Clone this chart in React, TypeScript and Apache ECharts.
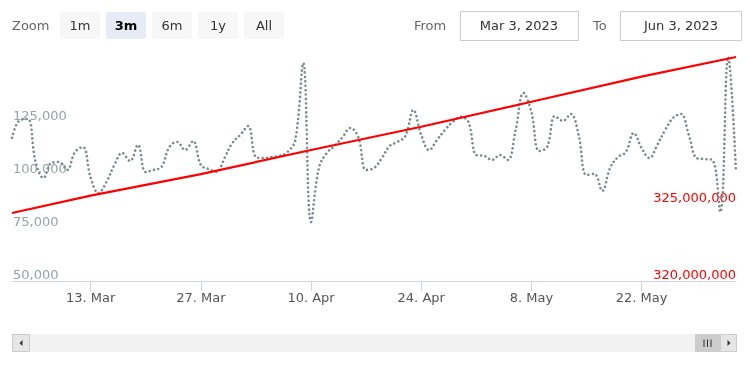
import React, { useEffect, useRef } from "react";
import * as echarts from "echarts";

// ---- data ----
const rangeStart = [2023, 2, 3]; // Mar 3, 2023 (month 0-based)
const rangeEnd = [2023, 5, 3]; // Jun 3, 2023
const tickDates = ["2023-03-13", "2023-03-27", "2023-04-10", "2023-04-24", "2023-05-08", "2023-05-22"];
const monthNames = ["Jan", "Feb", "Mar", "Apr", "May", "Jun", "Jul", "Aug", "Sep", "Oct", "Nov", "Dec"];

// daily values from Mar 3, 2023 (left axis)
const dailyValues = [
  117500, 125900, 126400, 106100, 98600, 105700, 106100, 102400, 110800, 113200,
  98600, 91500, 96700, 104700, 110400, 106600, 114200, 101400, 102400, 103800,
  113200, 115600, 111800, 116000, 104700, 102800, 101400, 108000, 115100, 118900,
  123100, 108500, 108000, 108500, 109000, 110800, 116500, 152800, 77800, 103300,
  110400, 113700, 117900, 122200, 117900, 102400, 103300, 108000, 113700, 115600,
  118400, 130700, 118900, 111800, 116500, 121200, 125000, 127400, 125000, 109400,
  109000, 107100, 109400, 107100, 121200, 138700, 129700, 111300, 113200, 127800,
  125500, 128800, 118900, 100000, 100500, 92500, 103300, 108500, 110800, 119800,
  112700, 108000, 114200, 121200, 126900, 128800, 118900, 108000, 107500, 107100,
  82500, 155700, 101400,
];

// right axis series
const popDates = ["2023-03-03", "2023-03-13", "2023-03-27", "2023-04-10", "2023-04-24", "2023-05-08", "2023-05-22", "2023-06-03"];
const popValues = [324440000, 325570000, 326980000, 328550000, 330070000, 331700000, 333340000, 334620000];

const leftTicksShown = [50000, 75000, 100000, 125000];
const rightTicksShown = [320000000, 325000000];
const rangeButtons = ["1m", "3m", "6m", "1y", "All"];
const selectedButton = "3m";
const fromText = "Mar 3, 2023";
const toText = "Jun 3, 2023";

const FONT = "DejaVu Sans";

function parseDate(s: string) {
  const [y, m, d] = s.split("-").map(Number);
  return new Date(y, m - 1, d).getTime();
}

export default function App() {
  const ref = useRef<HTMLDivElement>(null);
  useEffect(() => {
    if (!ref.current) return;
    const chart = echarts.init(ref.current, undefined, { renderer: "svg" });
    const startT = new Date(rangeStart[0], rangeStart[1], rangeStart[2]).getTime();
    const endT = new Date(rangeEnd[0], rangeEnd[1], rangeEnd[2]).getTime();
    const grayData = dailyValues.map((v, i) => [
      new Date(rangeStart[0], rangeStart[1], rangeStart[2] + i).getTime(),
      v,
    ]);
    const redData = popDates.map((d, i) => [parseDate(d), popValues[i]]);
    const ticks = tickDates.map(parseDate);

    const graphics: any[] = [];
    graphics.push({
      type: "text", x: 12, y: 25,
      style: { text: "Zoom", fill: "#666666", font: `13px ${FONT}`, verticalAlign: "middle" },
    });
    rangeButtons.forEach((b, i) => {
      const sel = b === selectedButton;
      graphics.push({
        type: "rect", shape: { x: 60 + 46 * i, y: 12, width: 40, height: 27, r: 2 },
        style: { fill: sel ? "#e6ebf5" : "#f7f7f7" },
      });
      graphics.push({
        type: "text", x: 80 + 46 * i, y: 25.5,
        style: {
          text: b, fill: sel ? "#000000" : "#333333",
          font: `${sel ? "bold " : ""}13px ${FONT}`, align: "center", verticalAlign: "middle",
        },
      });
    });
    graphics.push({
      type: "text", x: 414, y: 25,
      style: { text: "From", fill: "#666666", font: `13px ${FONT}`, verticalAlign: "middle" },
    });
    graphics.push({
      type: "rect", shape: { x: 460.5, y: 11.5, width: 118, height: 29 },
      style: { fill: "#ffffff", stroke: "#cccccc", lineWidth: 1 },
    });
    graphics.push({
      type: "text", x: 519, y: 25,
      style: { text: fromText, fill: "#333333", font: `13px ${FONT}`, align: "center", verticalAlign: "middle" },
    });
    graphics.push({
      type: "text", x: 593, y: 25,
      style: { text: "To", fill: "#666666", font: `13px ${FONT}`, verticalAlign: "middle" },
    });
    graphics.push({
      type: "rect", shape: { x: 620.5, y: 11.5, width: 121, height: 29 },
      style: { fill: "#ffffff", stroke: "#cccccc", lineWidth: 1 },
    });
    graphics.push({
      type: "text", x: 681, y: 25,
      style: { text: toText, fill: "#333333", font: `13px ${FONT}`, align: "center", verticalAlign: "middle" },
    });
    // scrollbar
    graphics.push({
      type: "rect", shape: { x: 12, y: 334, width: 725, height: 18 },
      style: { fill: "#f2f2f2" },
    });
    graphics.push({
      type: "rect", shape: { x: 12.5, y: 334.5, width: 17, height: 17 },
      style: { fill: "#e6e6e6", stroke: "#cccccc", lineWidth: 1 },
    });
    graphics.push({
      type: "polygon", shape: { points: [[19.5, 343], [22.5, 340], [22.5, 346]] },
      style: { fill: "#333333" },
    });
    graphics.push({
      type: "rect", shape: { x: 695, y: 334, width: 25, height: 18 },
      style: { fill: "#cccccc" },
    });
    [704, 707.5, 711].forEach((lx) => {
      graphics.push({
        type: "line", shape: { x1: lx, y1: 339.5, x2: lx, y2: 347 },
        style: { stroke: "#333333", lineWidth: 1 },
      });
    });
    graphics.push({
      type: "rect", shape: { x: 720.5, y: 334.5, width: 16, height: 17 },
      style: { fill: "#e6e6e6", stroke: "#cccccc", lineWidth: 1 },
    });
    graphics.push({
      type: "polygon", shape: { points: [[730.5, 343], [727.5, 340], [727.5, 346]] },
      style: { fill: "#333333" },
    });

    chart.setOption({
      animation: false,
      textStyle: { fontFamily: FONT },
      grid: { left: 12, right: 14, top: 55, bottom: 94, containLabel: false },
      xAxis: {
        type: "value",
        min: startT,
        max: endT,
        axisLine: { show: true, lineStyle: { color: "#ccd6eb", width: 1 } },
        axisTick: { show: true, length: 10, customValues: ticks, lineStyle: { color: "#ccd6eb" } },
        axisLabel: {
          customValues: ticks,
          margin: 10,
          color: "#555555",
          fontSize: 13,
          fontFamily: FONT,
          formatter: (v: number) => {
            const d = new Date(v);
            return `${d.getDate()}. ${monthNames[d.getMonth()]}`;
          },
        },
        splitLine: { show: false },
      },
      yAxis: [
        {
          type: "value",
          min: 50000,
          max: 156600,
          interval: 25000,
          position: "left",
          axisLine: { show: false },
          axisTick: { show: false },
          splitLine: { show: false },
          axisLabel: {
            inside: true,
            margin: 1,
            verticalAlign: "bottom",
            color: "#95a3a4",
            fontSize: 13,
            fontFamily: FONT,
            formatter: (v: number) => (leftTicksShown.includes(v) ? v.toLocaleString("en-US") : ""),
          },
        },
        {
          type: "value",
          min: 320000000,
          max: 334750000,
          interval: 5000000,
          position: "right",
          axisLine: { show: false },
          axisTick: { show: false },
          splitLine: { show: false },
          axisLabel: {
            inside: true,
            margin: 0,
            verticalAlign: "bottom",
            color: "#ff0000",
            fontSize: 13,
            fontFamily: FONT,
            formatter: (v: number) => (rightTicksShown.includes(v) ? v.toLocaleString("en-US") : ""),
          },
        },
      ],
      series: [
        {
          type: "line",
          yAxisIndex: 0,
          data: grayData,
          smooth: 0.4,
          showSymbol: false,
          lineStyle: { color: "#7a8a8b", width: 2.6, type: [0.01, 4.4], cap: "round" },
          z: 2,
        },
        {
          type: "line",
          yAxisIndex: 1,
          data: redData,
          smooth: false,
          showSymbol: false,
          lineStyle: { color: "#ff0000", width: 2.2 },
          z: 3,
        },
      ],
      graphic: graphics,
    });
    return () => chart.dispose();
  }, []);
  return (
    <div
      ref={ref}
      style={{ position: "fixed", left: 0, top: 0, width: 750, height: 375 }}
    />
  );
}
